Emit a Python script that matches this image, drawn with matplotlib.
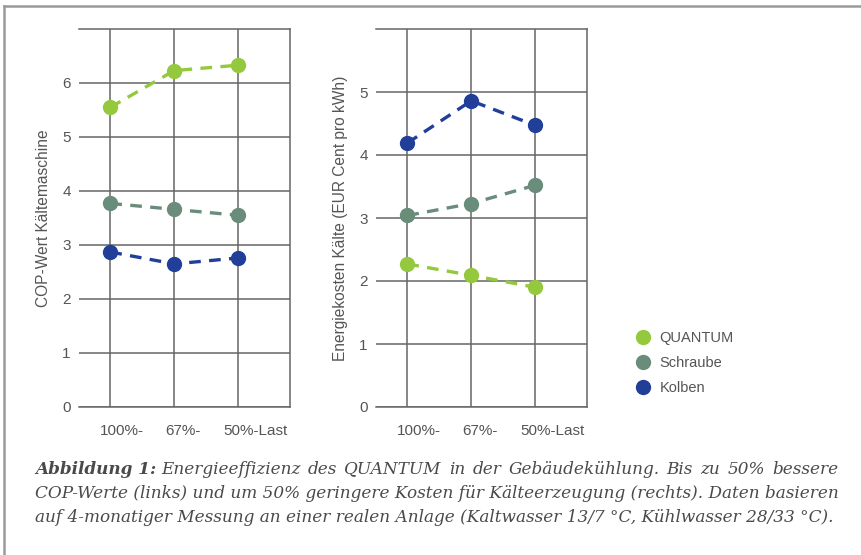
import matplotlib
matplotlib.use("Agg")
import matplotlib.pyplot as plt
from matplotlib.lines import Line2D
from matplotlib.transforms import ScaledTranslation

plt.rcParams['font.family'] = ['Liberation Sans', 'DejaVu Sans']

categories = ["100%-", "67%-", "50%-Last"]
series = ["QUANTUM", "Schraube", "Kolben"]
cop_quantum = [5.55, 6.23, 6.33]
cop_schraube = [3.77, 3.66, 3.55]
cop_kolben = [2.87, 2.65, 2.76]
cost_quantum = [2.27, 2.09, 1.90]
cost_schraube = [3.04, 3.23, 3.52]
cost_kolben = [4.19, 4.86, 4.47]
colors = ["#95c93d", "#6a8c7a", "#213f99"]

caption_bold = "Abbildung 1:"
caption_lines = [
    "Energieeffizienz des QUANTUM in der Gebäudekühlung. Bis zu 50% bessere",
    "COP-Werte (links) und um 50% geringere Kosten für Kälteerzeugung (rechts). Daten basieren",
    "auf 4-monatiger Messung an einer realen Anlage (Kaltwasser 13/7 °C, Kühlwasser 28/33 °C).",
]

W, H = 862, 555
fig = plt.figure(figsize=(W / 100, H / 100), dpi=100)

# outer frame (top and left lines)
fig.add_artist(Line2D([4 / W, 1], [1 - 6 / H, 1 - 6 / H], color="#9a9a9a", lw=1.8))
fig.add_artist(Line2D([4 / W, 4 / W], [1 - 6 / H, 0], color="#9a9a9a", lw=1.8))

grid_c = "#666666"
text_c = "#555555"
label_offsets = [12, 9, 17]  # px, shift of x tick labels to the right


def setup(ax, ymax, ylabel, data):
    x = list(range(len(categories)))
    for vals, c in zip(data, colors):
        ax.plot(x, vals, color=c, lw=2.4, ls=(0, (3.5, 2.5)), marker="o",
                ms=10, zorder=3)
    ax.set_xlim(-0.49, 2.81)
    ax.set_ylim(0, ymax)
    ax.set_yticks(range(0, ymax))
    ax.set_xticks(x)
    ax.set_xticklabels(categories)
    ax.grid(True, color=grid_c, lw=1.1)
    ax.set_axisbelow(True)
    ax.spines["left"].set_visible(False)
    for s in ["top", "right", "bottom"]:
        ax.spines[s].set_color(grid_c)
        ax.spines[s].set_linewidth(1.1)
    ax.tick_params(axis="both", length=0, colors=text_c, labelsize=11)
    ax.tick_params(axis="x", pad=12)
    ax.tick_params(axis="y", pad=6)
    for lab, off in zip(ax.get_xticklabels(), label_offsets):
        lab.set_transform(lab.get_transform() + ScaledTranslation(off / 100, 0, fig.dpi_scale_trans))
    ax.set_ylabel(ylabel, color=text_c, fontsize=11.2, labelpad=8)


ax1 = fig.add_axes([79 / W, 1 - 407 / H, 211 / W, 378 / H])
setup(ax1, 7, "COP-Wert Kältemaschine", [cop_quantum, cop_schraube, cop_kolben])
ax2 = fig.add_axes([376 / W, 1 - 407 / H, 211 / W, 378 / H])
setup(ax2, 6, "Energiekosten Kälte (EUR Cent pro kWh)", [cost_quantum, cost_schraube, cost_kolben])

handles = [Line2D([], [], color=c, marker="o", ls="none", ms=10) for c in colors]
leg = fig.legend(handles, series, loc="upper left", bbox_to_anchor=(623 / W, 1 - 318 / H),
                 frameon=False, fontsize=10.5, handletextpad=0.6, labelspacing=0.75,
                 handlelength=1.0)
for t in leg.get_texts():
    t.set_color(text_c)

# caption
cap_c = "#4a4a4a"
serif = ["DejaVu Serif"]
x_left, x_right = 35, 838
ys = [469, 493.5, 518]
r = fig.canvas.get_renderer()

probe = fig.text(0, 0, caption_lines[1], fontsize=12, fontstyle="italic", family=serif)
w12 = probe.get_window_extent(r).width
probe.remove()
fs = 12 * (x_right - x_left) / w12


def justified(words, x0, x1, y, **kw):
    """Place words so the line spans x0..x1 (pixels) with equal gaps."""
    arts = [fig.text(0, 1 - y / H, w, va="center", **kw) for w in words]
    widths = [a.get_window_extent(r).width for a in arts]
    gap = (x1 - x0 - sum(widths)) / max(len(words) - 1, 1)
    x = x0
    for a, w in zip(arts, widths):
        a.set_x(x / W)
        x += w + gap


cap_kw = dict(fontsize=fs, fontstyle="italic", family=serif, color=cap_c)
t_bold = fig.text(x_left / W, 1 - ys[0] / H, caption_bold, fontweight="bold", va="center", **cap_kw)
bb = t_bold.get_window_extent(r)
justified(caption_lines[0].split(" "), bb.x1 + 5, x_right, ys[0], **cap_kw)
fig.text(x_left / W, 1 - ys[1] / H, caption_lines[1], va="center", **cap_kw)
fig.text(x_left / W, 1 - ys[2] / H, caption_lines[2], va="center", **cap_kw)

fig.savefig("out.png", dpi=100)
